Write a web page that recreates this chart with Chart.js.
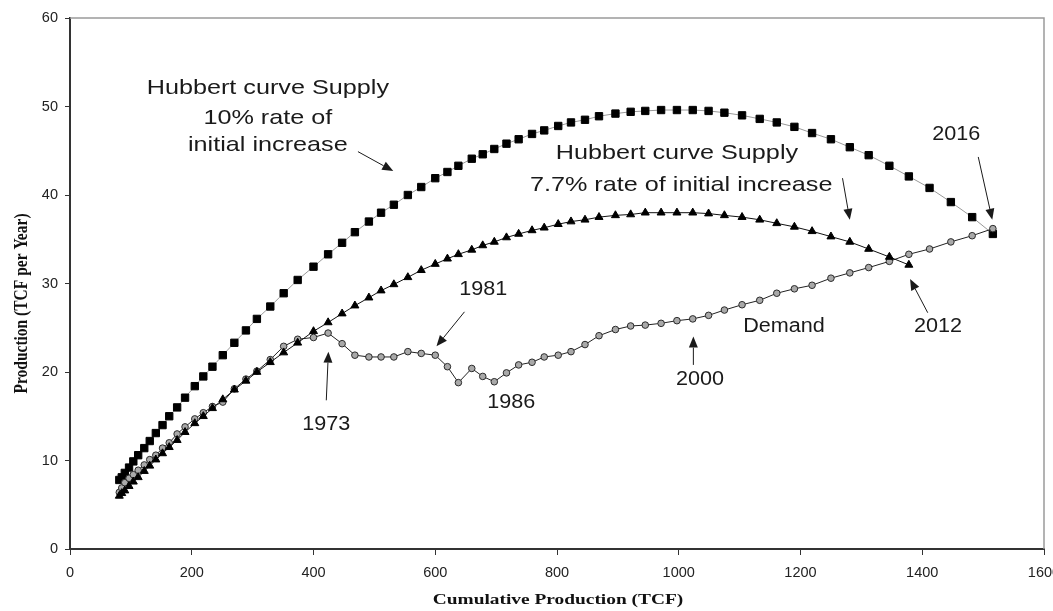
<!DOCTYPE html>
<html>
<head>
<meta charset="utf-8">
<script src="https://cdn.jsdelivr.net/npm/chart.js@4.4.1/dist/chart.umd.min.js"></script>
<style>
  html, body { margin: 0; padding: 0; background: #fff; overflow: hidden; }
  #wrap { position: relative; width: 1070px; height: 611px; }
</style>
</head>
<body>
<div id="wrap"><canvas id="hubbertChart"></canvas></div>
<script>
// cumulative production (TCF), one point per year 1949..2016
const cumulative = [81, 85, 90, 97, 104, 112, 122, 131, 141, 152, 163, 176, 189, 205, 219, 234, 251, 270, 289, 307,
    329, 351, 374, 400, 424, 447, 468, 491, 511, 532, 555, 577, 600, 620, 638, 660, 678, 697, 717, 737,
    759, 779, 802, 823, 846, 869, 896, 921, 945, 971, 997, 1023, 1049, 1075, 1104, 1133, 1161, 1190, 1219, 1250,
    1281, 1312, 1346, 1378, 1412, 1447, 1482, 1516];

const demand = [6.4, 6.9, 7.5, 8.0, 8.4, 8.9, 9.5, 10.1, 10.6, 11.4, 12.0, 13.0, 13.8, 14.7, 15.4, 16.1, 16.6, 18.1, 19.2, 20.1,
    21.4, 22.9, 23.7, 23.9, 24.4, 23.2, 21.9, 21.7, 21.7, 21.7, 22.3, 22.1, 21.9, 20.6, 18.8, 20.4, 19.5, 18.9, 19.9, 20.8,
    21.1, 21.7, 21.9, 22.3, 23.1, 24.1, 24.8, 25.2, 25.3, 25.5, 25.8, 26.0, 26.4, 27.0, 27.6, 28.1, 28.9, 29.4, 29.8, 30.6,
    31.2, 31.8, 32.5, 33.3, 33.9, 34.7, 35.4, 36.2];

// Hubbert supply, 10% initial rate (runs to 2016)
const supply10 = [7.8, 8.1, 8.6, 9.2, 9.9, 10.6, 11.4, 12.2, 13.1, 14.0, 15.0, 16.0, 17.1, 18.4, 19.5, 20.6, 21.9, 23.3, 24.7, 26.0,
    27.4, 28.9, 30.4, 31.9, 33.3, 34.6, 35.8, 37.0, 38.0, 38.9, 40.0, 40.9, 41.9, 42.6, 43.3, 44.1, 44.6, 45.2, 45.8, 46.3,
    46.9, 47.3, 47.8, 48.2, 48.5, 48.9, 49.2, 49.4, 49.5, 49.6, 49.6, 49.6, 49.5, 49.3, 49.0, 48.6, 48.2, 47.7, 47.0, 46.3,
    45.4, 44.5, 43.3, 42.1, 40.8, 39.2, 37.5, 35.6];

// Hubbert supply, 7.7% initial rate (runs to 2012)
const supply77 = [6.0, 6.3, 6.6, 7.1, 7.6, 8.1, 8.8, 9.4, 10.1, 10.8, 11.5, 12.3, 13.2, 14.2, 15.0, 15.9, 16.9, 18.0, 19.0, 20.0,
    21.1, 22.2, 23.3, 24.6, 25.6, 26.6, 27.5, 28.4, 29.2, 29.9, 30.7, 31.5, 32.2, 32.8, 33.3, 33.8, 34.3, 34.7, 35.2, 35.6,
    36.0, 36.3, 36.7, 37.0, 37.2, 37.5, 37.7, 37.8, 38.0, 38.0, 38.0, 38.0, 37.9, 37.7, 37.5, 37.2, 36.8, 36.4, 35.9, 35.3,
    34.7, 33.9, 33.0, 32.1];

// text notes, placed in data units
const notes = [
    { lines: ['Hubbert curve Supply', '10% rate of', 'initial increase'], x: 325, y: [52.1, 48.7, 45.6], size: 21, sx: 1.2 },
    { lines: ['Hubbert curve Supply'], x: 997, y: [44.75], size: 21, sx: 1.2 },
    { lines: ['7.7% rate of initial increase'], x: 1004, y: [41.1], size: 21, sx: 1.2 },
    { lines: ['2016'], x: 1456, y: [46.8], size: 20, sx: 1.08 },
    { lines: ['2012'], x: 1426, y: [25.1], size: 20, sx: 1.08 },
    { lines: ['Demand'], x: 1173, y: [25.1], size: 20, sx: 1.08 },
    { lines: ['2000'], x: 1035, y: [19.1], size: 20, sx: 1.08 },
    { lines: ['1986'], x: 725, y: [16.6], size: 20, sx: 1.08 },
    { lines: ['1981'], x: 679, y: [29.3], size: 20, sx: 1.08 },
    { lines: ['1973'], x: 421, y: [14.1], size: 20, sx: 1.08 }
];

const arrows = [
    { from: [473, 44.9], to: [531, 42.7] },
    { from: [1269, 41.9], to: [1281, 37.2] },
    { from: [1492, 44.3], to: [1515, 37.2] },
    { from: [1409, 26.7], to: [1380, 30.5] },
    { from: [1024, 20.8], to: [1024, 24.0] },
    { from: [648, 26.8], to: [602, 22.9] },
    { from: [421, 16.8], to: [424.5, 22.3] }
];

function toPoints(values) {
    return values.map((v, i) => ({ x: cumulative[i], y: v }));
}

function stretchedText(ctx, text, x, y, sx) {
    ctx.save();
    ctx.translate(x, y);
    ctx.scale(sx, 1);
    ctx.fillText(text, 0, 0);
    ctx.restore();
}

function drawArrow(ctx, x1, y1, x2, y2) {
    const ang = Math.atan2(y2 - y1, x2 - x1);
    const head = 11, half = 4.5;
    const bx = x2 - head * Math.cos(ang);
    const by = y2 - head * Math.sin(ang);
    ctx.beginPath();
    ctx.moveTo(x1, y1);
    ctx.lineTo(bx, by);
    ctx.stroke();
    ctx.beginPath();
    ctx.moveTo(x2, y2);
    ctx.lineTo(bx + half * Math.sin(ang), by - half * Math.cos(ang));
    ctx.lineTo(bx - half * Math.sin(ang), by + half * Math.cos(ang));
    ctx.closePath();
    ctx.fill();
}

const frameAndNotes = {
    id: 'frameAndNotes',
    beforeDatasetsDraw(chart) {
        const { ctx, chartArea } = chart;
        // grey frame on top and right
        ctx.save();
        ctx.strokeStyle = '#9a9a9a';
        ctx.lineWidth = 1.5;
        ctx.beginPath();
        ctx.moveTo(chartArea.left, chartArea.top);
        ctx.lineTo(chartArea.right, chartArea.top);
        ctx.lineTo(chartArea.right, chartArea.bottom);
        ctx.stroke();
        ctx.restore();
    },
    afterDatasetsDraw(chart) {
        const { ctx, chartArea } = chart;
        const xs = chart.scales.x, ys = chart.scales.y;
        ctx.save();
        ctx.fillStyle = '#1a1a1a';
        ctx.strokeStyle = '#1a1a1a';
        ctx.lineWidth = 1;
        ctx.textAlign = 'center';
        ctx.textBaseline = 'middle';

        notes.forEach(n => {
            ctx.font = n.size + 'px "Liberation Sans", Arial, sans-serif';
            n.lines.forEach((line, i) => {
                stretchedText(ctx, line, xs.getPixelForValue(n.x), ys.getPixelForValue(n.y[i]), n.sx);
            });
        });

        arrows.forEach(a => {
            drawArrow(ctx,
                xs.getPixelForValue(a.from[0]), ys.getPixelForValue(a.from[1]),
                xs.getPixelForValue(a.to[0]), ys.getPixelForValue(a.to[1]));
        });

        // axis titles
        ctx.fillStyle = '#111';
        ctx.font = 'bold 15.5px "Liberation Serif", "Times New Roman", serif';
        stretchedText(ctx, 'Cumulative Production (TCF)', (chartArea.left + chartArea.right) / 2 + 1, chartArea.bottom + 51, 1.25);
        ctx.save();
        ctx.translate(chartArea.left - 48, (chartArea.top + chartArea.bottom) / 2 + 20);
        ctx.rotate(-Math.PI / 2);
        ctx.scale(1, 1.15);
        ctx.fillText('Production (TCF per Year)', 0, 0);
        ctx.restore();
        ctx.restore();
    }
};

const tickFont = { family: '"Liberation Sans", Arial, sans-serif', size: 14.5 };

new Chart(document.getElementById('hubbertChart').getContext('2d'), {
    type: 'line',
    data: {
        datasets: [
            {
                label: 'Hubbert curve Supply 7.7%',
                data: toPoints(supply77),
                borderColor: '#111',
                borderWidth: 1,
                pointStyle: 'triangle',
                pointRadius: 4.6,
                pointBackgroundColor: '#000',
                pointBorderColor: '#000',
                pointBorderWidth: 1,
                tension: 0
            },
            {
                label: 'Demand',
                data: toPoints(demand),
                borderColor: '#222',
                borderWidth: 1,
                pointStyle: 'circle',
                pointRadius: 3.3,
                pointBackgroundColor: '#a9a9a9',
                pointBorderColor: '#2a2a2a',
                pointBorderWidth: 1,
                tension: 0
            },
            {
                label: 'Hubbert curve Supply 10%',
                data: toPoints(supply10),
                borderColor: '#999',
                borderWidth: 1,
                pointStyle: 'rect',
                pointRadius: 5.2,
                pointBackgroundColor: '#000',
                pointBorderColor: '#000',
                pointBorderWidth: 1,
                tension: 0
            }
        ]
    },
    options: {
        responsive: true,
        maintainAspectRatio: false,
        animation: false,
        layout: {
            padding: { top: 18, right: 26, left: 0, bottom: 0 }
        },
        scales: {
            x: {
                type: 'linear',
                min: 0,
                max: 1600,
                afterFit: (scale) => { scale.height = 62; },
                ticks: {
                    stepSize: 200,
                    autoSkip: false,
                    maxRotation: 0,
                    padding: 9,
                    color: '#222',
                    font: tickFont,
                    callback: (value) => String(value)
                },
                grid: {
                    display: true,
                    drawOnChartArea: false,
                    drawTicks: true,
                    tickLength: 6,
                    color: '#333'
                },
                border: { display: true, color: '#333', width: 2 }
            },
            y: {
                min: 0,
                max: 60,
                afterFit: (scale) => { scale.width = 70; },
                ticks: {
                    stepSize: 10,
                    padding: 7,
                    color: '#222',
                    font: tickFont,
                    callback: (value) => String(value)
                },
                grid: {
                    display: true,
                    drawOnChartArea: false,
                    drawTicks: true,
                    tickLength: 5,
                    color: '#333'
                },
                border: { display: true, color: '#333', width: 2 }
            }
        },
        plugins: {
            legend: { display: false },
            tooltip: { enabled: false }
        }
    },
    plugins: [frameAndNotes]
});
</script>
</body>
</html>
